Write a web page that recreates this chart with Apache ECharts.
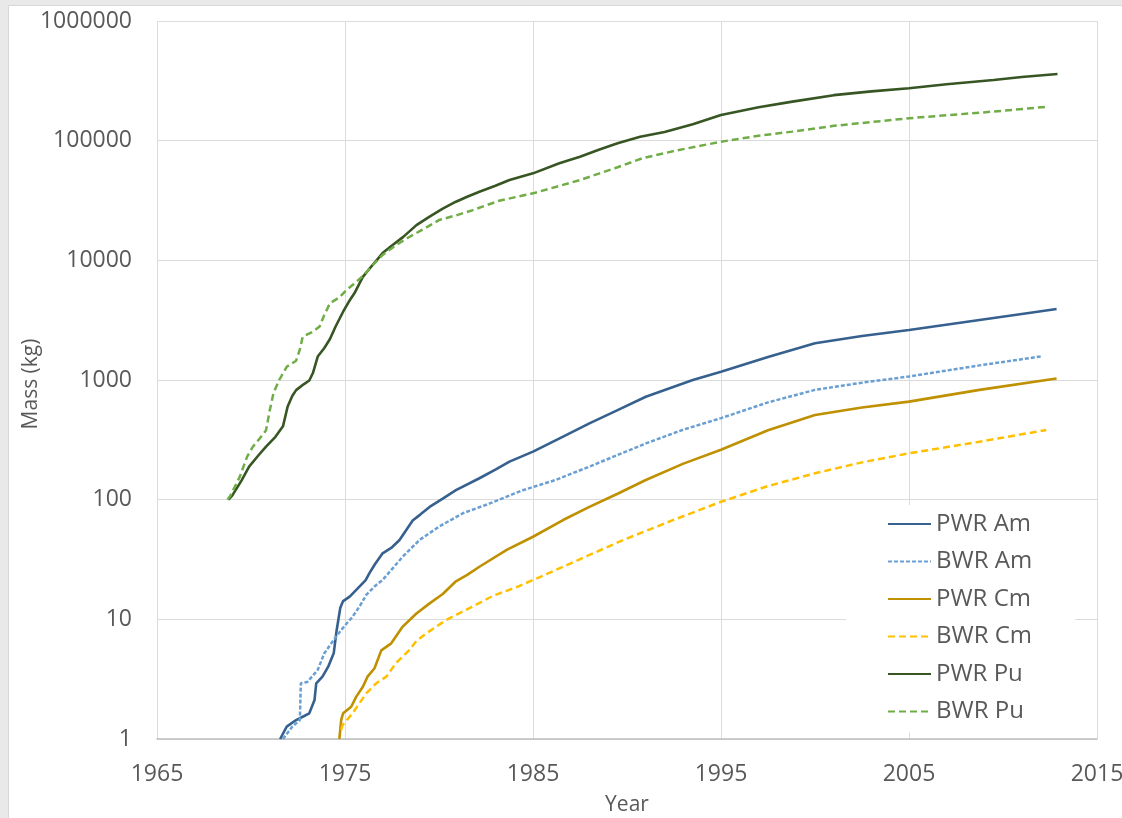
<!DOCTYPE html>
<html>
<head>
<meta charset="utf-8">
<script src="https://cdn.jsdelivr.net/npm/echarts@6/dist/echarts.min.js"></script>
<style>
  html, body { margin: 0; padding: 0; width: 1122px; height: 818px; overflow: hidden; background: #e9e9e9; }
  #panel { position: absolute; left: 8px; top: 5px; width: 1114px; height: 813px; background: #ffffff; border-left: 1px solid #d8d8d8; border-top: 1px solid #d8d8d8; box-sizing: border-box; }
  #chart { position: absolute; left: 0; top: 0; width: 1122px; height: 818px; }
</style>
</head>
<body>
<div id="panel"></div>
<div id="chart"></div>
<script>
// ---- Data ----
const seriesNames = ['PWR Am', 'BWR Am', 'PWR Cm', 'BWR Cm', 'PWR Pu', 'BWR Pu'];
const xTicks = [1965, 1975, 1985, 1995, 2005, 2015];
const yTicks = [1, 10, 100, 1000, 10000, 100000, 1000000];
const xTitle = 'Year';
const yTitle = 'Mass (kg)';

const pwrAmYear = [1971.55,1971.9,1972.4,1972.8,1973.1,1973.38,1973.47,1973.8,1974.1,1974.4,1974.55,1974.75,1974.9,1975.25,1975.6,1976.1,1976.3,1976.6,1977.0,1977.5,1977.9,1978.6,1979.0,1979.5,1980.2,1980.9,1982.15,1983.0,1983.75,1985.0,1986.6,1988.0,1989.5,1991.0,1993.5,1995.0,1997.5,2000.0,2002.5,2005.0,2008.75,2011.0,2012.85];
const pwrAmMass = [1.0,1.27,1.44,1.55,1.64,2.12,2.92,3.32,4.0,5.2,8.0,12.5,14.2,15.5,17.6,21.3,24.3,29,35.6,40,46,67,75,87,102,120,151,178,208,252,336,434,560,725,1000,1173,1560,2030,2330,2620,3170,3560,3920];

const bwrAmYear = [1971.7,1972.2,1972.6,1972.65,1973.0,1973.55,1973.9,1974.27,1974.65,1975.0,1975.4,1975.8,1976.13,1976.6,1977.0,1978.07,1978.96,1980.0,1981.27,1982.7,1984.46,1986.2,1988.0,1991.0,1993.0,1995.0,1997.5,2000.0,2002.5,2005.0,2008.75,2012.1];
const bwrAmMass = [1.0,1.27,1.44,2.92,3.0,3.78,5.2,6.3,7.6,8.9,10.5,13,16,19,21.3,33.4,46,59.5,77,93,120,146,189,295,385,480,650,827,950,1070,1325,1580];

const pwrCmYear = [1974.7,1974.8,1974.9,1975.33,1975.6,1975.95,1976.2,1976.57,1976.93,1977.46,1978.07,1978.8,1979.5,1980.2,1980.9,1981.5,1982.15,1983.6,1985.0,1986.6,1988.0,1989.5,1991.0,1993.0,1995.0,1997.5,2000.0,2002.5,2005.0,2008.75,2012.85];
const pwrCmMass = [1.0,1.45,1.64,1.86,2.26,2.73,3.32,3.9,5.5,6.3,8.7,11.2,13.6,16.3,20.8,23.5,27.5,38,49,67.6,87,112,146,200,261,380,510,590,660,827,1030];

const bwrCmYear = [1974.8,1974.88,1975.4,1975.77,1976.13,1976.66,1977.2,1977.7,1978.4,1978.8,1979.3,1980.4,1981.7,1982.9,1984.1,1985.0,1986.6,1988.0,1989.8,1992.5,1995.0,1997.5,2000.0,2002.5,2005.0,2008.75,2012.3];
const bwrCmMass = [1.2,1.31,1.64,1.99,2.41,2.92,3.32,4.29,5.5,6.6,7.6,9.9,12.6,15.8,18.5,21.3,27.5,34.5,46,68,96,130,166,205,244,305,382];

const pwrPuYear = [1968.8,1969.0,1969.5,1969.9,1970.4,1970.8,1971.3,1971.7,1971.95,1972.2,1972.4,1972.8,1973.1,1973.3,1973.55,1973.9,1974.2,1974.5,1974.9,1975.2,1975.5,1975.95,1976.3,1976.7,1977.0,1977.5,1978.1,1978.8,1979.5,1980.2,1980.9,1981.5,1982.15,1983.0,1983.75,1985.0,1986.4,1987.5,1988.5,1989.5,1990.7,1992.0,1993.5,1995.0,1997.0,1998.8,2001.0,2003.0,2005.0,2007.0,2009.5,2011.0,2012.9];
const pwrPuMass = [100,108,145,189,235,277,335,410,600,740,823,920,990,1150,1570,1850,2200,2800,3720,4500,5300,7270,8500,10100,11500,13300,15700,19700,23200,27000,30900,34000,37400,42000,46900,53300,64700,73400,84000,95000,108000,118000,137000,164000,190000,212000,240000,258000,274000,296000,321000,340000,361000];

const bwrPuYear = [1968.75,1968.9,1969.4,1969.8,1970.1,1970.5,1970.8,1971.0,1971.2,1971.5,1971.9,1972.4,1972.6,1972.75,1973.3,1973.65,1973.9,1974.2,1974.7,1975.1,1975.5,1975.95,1976.5,1977.0,1977.6,1978.3,1979.0,1980.0,1981.0,1981.8,1983.2,1985.0,1986.2,1987.5,1988.5,1989.5,1990.8,1992.5,1995.0,1997.0,1998.8,2001.0,2003.0,2005.0,2007.0,2009.5,2012.3];
const bwrPuMass = [100,108,155,230,277,330,380,560,780,1000,1290,1450,1800,2300,2540,2800,3500,4380,4900,5700,6400,7400,9200,11100,13000,15300,17600,21700,24000,26300,31500,36300,41000,46900,53000,60000,71100,82000,98000,110000,119000,133000,143000,154000,163000,175000,192000];

function pairs(xs, ys) { return xs.map((x, i) => [x, ys[i]]); }

const FONT = '"Open Sans", "Noto Sans", sans-serif';
const TXT = '#595959';

const chart = echarts.init(document.getElementById('chart'), null, { renderer: 'canvas' });

function lineSeries(name, xs, ys, color, dash, width) {
  return {
    name: name,
    type: 'line',
    data: pairs(xs, ys),
    symbol: 'none',
    showSymbol: false,
    smooth: false,
    clip: true,
    lineStyle: { color: color, width: width, type: dash || 'solid' },
    itemStyle: { color: color },
    emphasis: { disabled: true },
    animation: false
  };
}

chart.setOption({
  animation: false,
  backgroundColor: 'transparent',
  textStyle: { fontFamily: FONT },
  grid: { left: 157, right: 25, top: 21, bottom: 79, containLabel: false, outerBoundsMode: 'none' },
  graphic: [{
    type: 'text',
    x: 31,
    y: 384,
    rotation: Math.PI / 2,
    silent: true,
    style: { text: yTitle, fill: TXT, font: '21px "Open Sans", "Noto Sans", sans-serif', align: 'center', verticalAlign: 'middle' }
  }],
  xAxis: {
    type: 'value',
    min: xTicks[0],
    max: xTicks[xTicks.length - 1],
    interval: 10,
    name: xTitle,
    nameLocation: 'middle',
    nameGap: 56,
    nameMoveOverlap: false,
    nameTextStyle: { color: TXT, fontSize: 21, fontFamily: FONT },
    axisLine: { show: true, lineStyle: { color: '#bfbfbf', width: 1.5 } },
    axisTick: { show: false },
    axisLabel: { color: TXT, fontSize: 23, fontFamily: FONT, margin: 24, formatter: v => String(Math.round(v)) },
    splitLine: { show: true, lineStyle: { color: '#dcdcdc', width: 1 } }
  },
  yAxis: {
    type: 'log',
    logBase: 10,
    min: yTicks[0],
    max: yTicks[yTicks.length - 1],
    axisLine: { show: false },
    axisTick: { show: false },
    axisLabel: { color: TXT, fontSize: 23, fontFamily: FONT, margin: 25, formatter: v => String(Math.round(v)) },
    splitLine: { show: true, lineStyle: { color: '#dcdcdc', width: 1 } }
  },
  legend: {
    orient: 'vertical',
    left: 846,
    top: 505,
    padding: [5, 43, 7, 41],
    backgroundColor: '#ffffff',
    itemWidth: 43,
    itemHeight: 14,
    itemGap: 9.5,
    selectedMode: false,
    itemStyle: { opacity: 0, borderWidth: 0 },
    data: seriesNames,
    textStyle: { color: TXT, fontSize: 24, lineHeight: 28, fontFamily: FONT }
  },
  series: [
    lineSeries(seriesNames[0], pwrAmYear, pwrAmMass, '#36608e', 'solid', 2.6),
    lineSeries(seriesNames[1], bwrAmYear, bwrAmMass, '#6a9fd3', [4, 2], 2.5),
    lineSeries(seriesNames[2], pwrCmYear, pwrCmMass, '#bf9000', 'solid', 2.6),
    lineSeries(seriesNames[3], bwrCmYear, bwrCmMass, '#ffc000', [7, 4], 2.5),
    lineSeries(seriesNames[4], pwrPuYear, pwrPuMass, '#375623', 'solid', 2.6),
    lineSeries(seriesNames[5], bwrPuYear, bwrPuMass, '#70ad47', [7, 4], 2.5)
  ]
});
</script>
</body>
</html>
